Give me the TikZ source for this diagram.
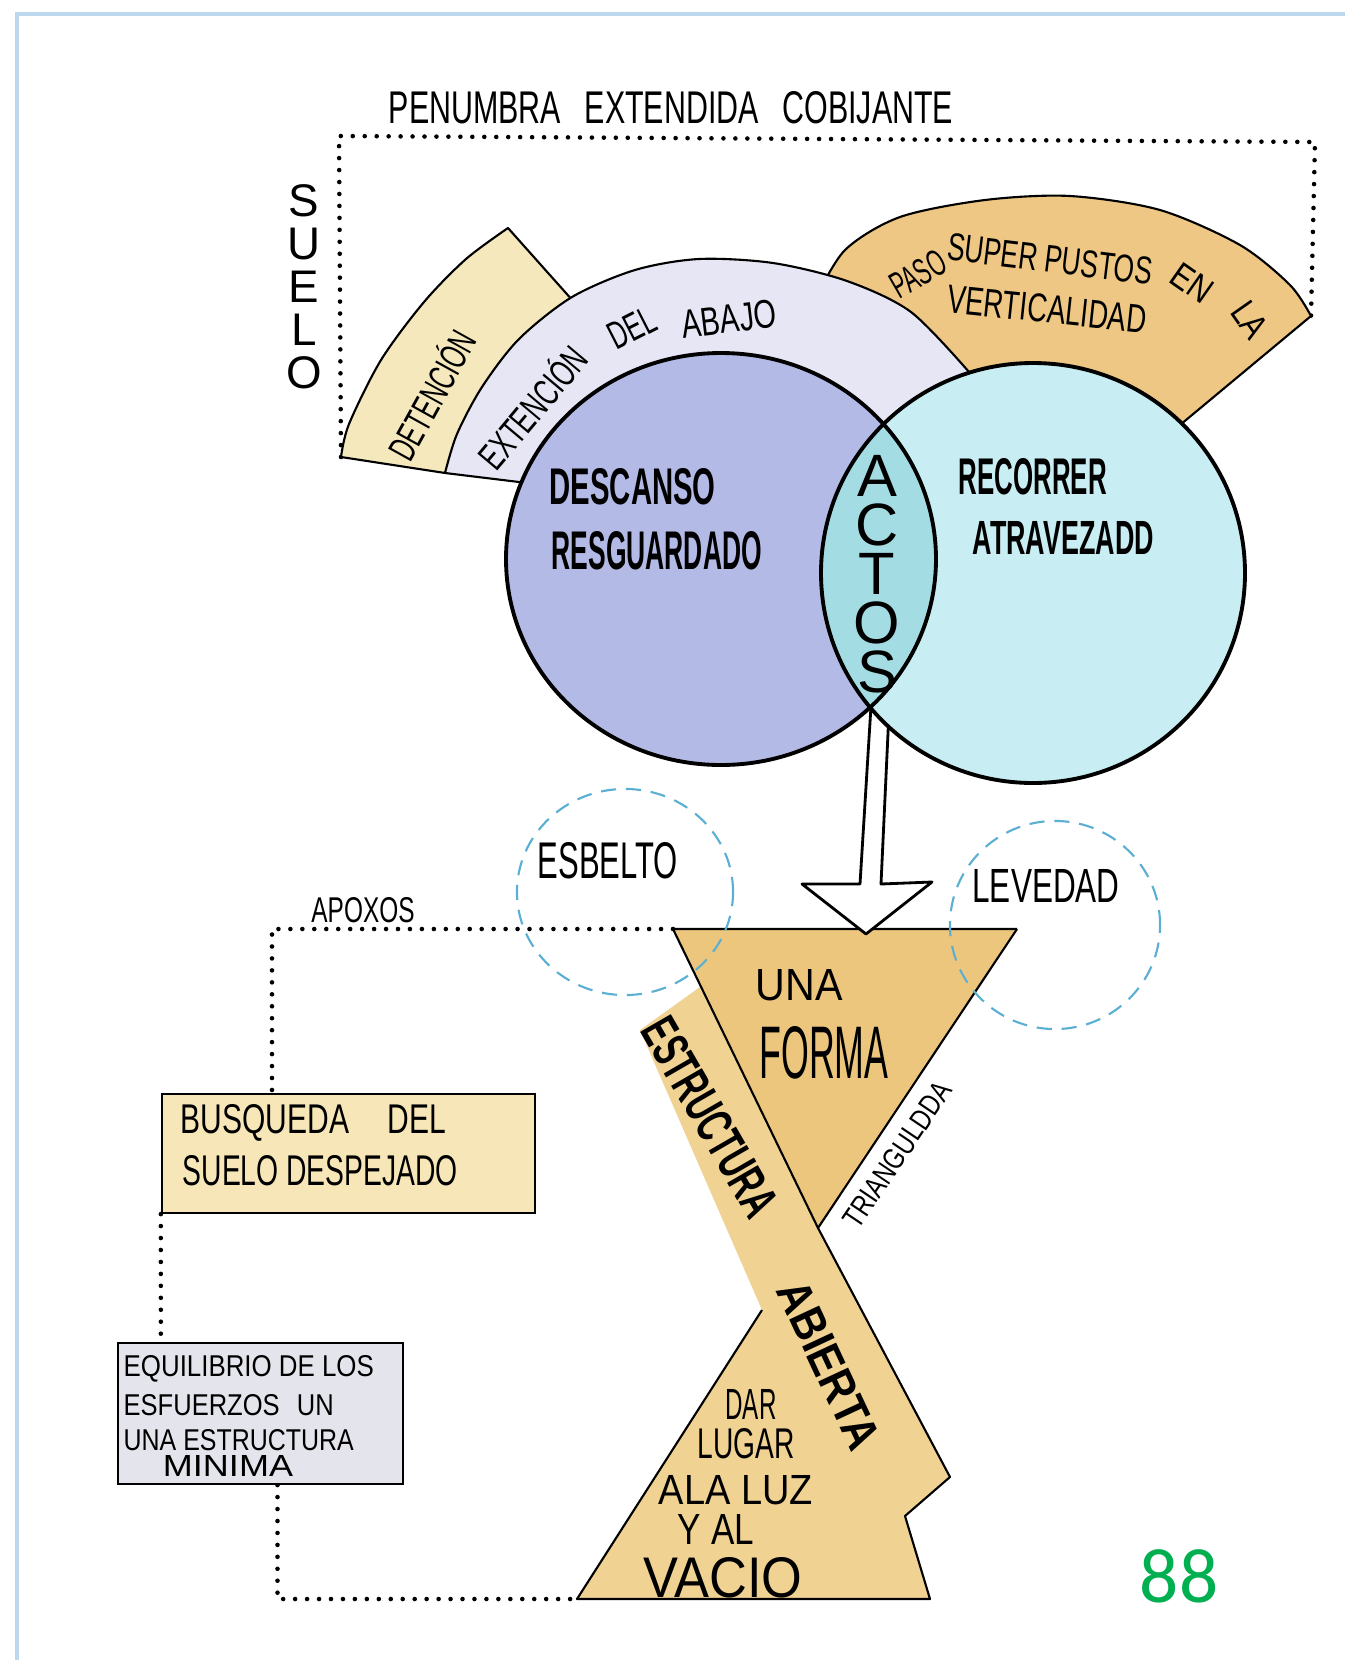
\documentclass[tikz,border=0pt]{standalone}
\usepackage{fontspec}
\usepackage{graphicx}
\usetikzlibrary{shapes.geometric,calc}
\setmainfont{Liberation Sans}
\newfontfamily\hand{Liberation Sans}
\newfontfamily\pgnum{Carlito}
\definecolor{frameblue}{HTML}{BDD7EE}
\definecolor{detc}{HTML}{F4E8BC}
\definecolor{extc}{HTML}{E6E6F4}
\definecolor{pasoc}{HTML}{EDC783}
\definecolor{descc}{HTML}{B4BAE6}
\definecolor{recoc}{HTML}{C8EDF2}
\definecolor{lensc}{HTML}{A4DCE4}
\definecolor{formac}{HTML}{EDC67E}
\definecolor{bandc}{HTML}{F0D393}
\definecolor{busqc}{HTML}{F7E7B8}
\definecolor{equic}{HTML}{E4E4EC}
\definecolor{dashblue}{HTML}{5BAFD2}
\definecolor{pggreen}{HTML}{00B050}
\newcommand{\hw}[3]{\resizebox{#1}{#2}{\hand #3}}
\tikzset{
  lbl/.style={inner sep=0pt,font=\hand},
  outl/.style={draw=black,line width=0.6pt,line join=round},
  ring/.style={draw=black,line width=1.1pt},
  dots/.style={line width=1.3pt,line cap=round,dash pattern=on 0pt off 3.4pt},
  bubble/.style={ellipse,draw=dashblue,line width=0.6pt,dash pattern=on 4.3pt off 2.8pt,inner sep=0pt},
  blob/.style={ellipse,inner sep=0pt},
  boxy/.style={draw=black,line width=0.6pt,inner sep=0pt},
}

\begin{document}
\begin{tikzpicture}[x=0.01cm,y=-0.01cm]
\useasboundingbox (0,0) rectangle (1345,1660);
\fill[white] (0,0) rectangle (1345,1660);
\draw[frameblue,line width=0.9pt] (17,1660) -- (17,14) -- (1345,14);

\coordinate (detbl) at (341,457);
\coordinate (pasotr) at (1311,316);
\draw[dots] (detbl) -- (339,136) -- (1315,142) -- (pasotr);

\filldraw[outl,fill=pasoc] plot[smooth] coordinates {(815,300) (845,250) (900,217) (985,200) (1070,196) (1160,210) (1240,245) (1290,285) (pasotr)}
  -- (1180,425) -- (1060,440) -- (880,440) -- cycle;
\filldraw[outl,fill=detc] plot[smooth] coordinates {(detbl) (349,424) (381,360) (424,302) (466,259) (508,228)}
  -- (590,320) -- (480,420) -- (445,473) -- cycle;
\filldraw[outl,fill=extc] plot[smooth] coordinates {(445,473) (457,434) (482,387) (519,339) (572,297) (635,270) (699,259) (773,263) (847,281) (911,312) (969,372)}
  -- (1000,430) -- (800,560) -- (519,482) -- cycle;

\coordinate (tl) at (673,929);
\coordinate (tr) at (1017,929);
\coordinate (tb) at (818,1228);
\coordinate (lowbl) at (577,1599);
\fill[bandc] (700,987) -- (640,1030) -- (762,1310) -- (lowbl) -- (930,1599) -- (905,1516) -- (950,1477) -- (tb) -- cycle;
\fill[formac] (tl) -- (tr) -- (tb) -- cycle;
\draw[outl] (tr) -- (tl) -- (tb) -- (950,1477) -- (905,1516) -- (930,1599) -- (lowbl) -- (762,1310);
\draw[outl] (tr) -- (tb);

\filldraw[outl,fill=white,line width=0.8pt] (872,690) -- (860,884) -- (802,884) -- (866,934) -- (932,882) -- (881,884) -- (890,690) -- cycle;

\node[blob,fill=descc,minimum width=4.30cm,minimum height=4.12cm] (desc) at (721,559) {};
\node[blob,fill=recoc,minimum width=4.24cm,minimum height=4.20cm] (reco) at (1033,573) {};
\begin{scope}
  \clip (desc.center) ellipse [x radius=215,y radius=206];
  \fill[lensc] (reco.center) ellipse [x radius=212,y radius=210];
\end{scope}
\draw[ring] (desc.center) ellipse [x radius=215,y radius=206];
\draw[ring] (reco.center) ellipse [x radius=212,y radius=210];

\node[boxy,fill=busqc,minimum width=3.73cm,minimum height=1.19cm] (busq) at (348.5,1153.5) {};
\node[boxy,fill=equic,minimum width=2.85cm,minimum height=1.41cm] (equi) at (260.5,1413.5) {};
\coordinate (apoyo) at (272,929);
\draw[dots] (tl) -- (apoyo) -- (apoyo |- busq.north);
\draw[dots] (busq.south west) -- (busq.south west |- equi.north);
\draw[dots] ($(equi.south)+(17,0)$) |- (lowbl);

\node[bubble,minimum width=2.16cm,minimum height=2.06cm] (esbelto) at (625,892) {};
\node[bubble,minimum width=2.10cm,minimum height=2.08cm] (levedad) at (1055,925) {};

\node[lbl] (pen) at (671,108) {\hw{5.64cm}{.32cm}{PENUMBRA\hspace{.5em} EXTENDIDA\hspace{.5em} COBIJANTE}};
\foreach \ch [count=\i from 0] in {S,U,E,L,O}
  \node[lbl,font=\hand\fontsize{13}{15}\selectfont] (suelo\i) at (304,{201+43*\i}) {\ch};
\node[lbl,rotate=61] (deten) at (430,394) {\hw{1.40cm}{.33cm}{DETENCIÓN}};
\node[lbl,rotate=50] (ext1) at (531,406) {\hw{1.46cm}{.33cm}{EXTENCIÓN}};
\node[lbl,rotate=27] (ext2) at (632,328) {\hw{.48cm}{.27cm}{DEL}};
\node[lbl,rotate=7] (ext3) at (729,319) {\hw{.95cm}{.28cm}{ABAJO}};
\node[lbl,rotate=30] (paso1) at (918,274) {\hw{.58cm}{.26cm}{PASO}};
\node[lbl,rotate=-7] (paso2) at (1050,259) {\hw{2.06cm}{.27cm}{SUPER PUSTOS}};
\node[lbl,rotate=-35] (paso3) at (1192,283) {\hw{.42cm}{.25cm}{EN}};
\node[lbl,rotate=-55] (paso4) at (1250,320) {\hw{.36cm}{.25cm}{LA}};
\node[lbl,rotate=-6] (paso5) at (1047,309) {\hw{2.00cm}{.28cm}{VERTICALIDAD}};
\node[lbl,anchor=west] (desc1) at (549,487) {\hw{1.66cm}{.36cm}{\bfseries DESCANSO}};
\node[lbl,anchor=west] (desc2) at (551,551) {\hw{2.10cm}{.38cm}{\bfseries RESGUARDADO}};
\node[lbl,anchor=west] (reco1) at (958,477) {\hw{1.48cm}{.36cm}{\bfseries RECORRER}};
\node[lbl,anchor=west] (reco2) at (972,538) {\hw{1.81cm}{.33cm}{\bfseries ATRAVEZADD}};
\foreach \ch [count=\i from 0] in {A,C,T,O,S}
  \node[lbl,font=\hand\fontsize{17}{19}\selectfont] (actos\i) at (877,{476+49*\i}) {\ch};
\node[lbl] (esb) at (608,861) {\hw{1.40cm}{.36cm}{ESBELTO}};
\node[lbl] (lev) at (1046,886) {\hw{1.47cm}{.33cm}{LEVEDAD}};
\node[lbl] (apo) at (363,910) {\hw{1.03cm}{.25cm}{APOXOS}};
\node[lbl] (una) at (799,985) {\hw{.87cm}{.31cm}{UNA}};
\node[lbl] (forma) at (824,1053) {\hw{1.29cm}{.52cm}{FORMA}};
\node[lbl,rotate=-60] (estr) at (710,1117) {\hw{2.20cm}{.36cm}{\bfseries ESTRUCTURA}};
\node[lbl,rotate=-65] (abi) at (829,1365) {\hw{1.80cm}{.33cm}{\bfseries ABIERTA}};
\node[lbl,rotate=56] (trian) at (897,1155) {\hw{1.69cm}{.21cm}{TRIANGULDDA}};
\node[lbl] (dar) at (751,1404) {\hw{.51cm}{.30cm}{DAR}};
\node[lbl] (lugar) at (746,1444) {\hw{.97cm}{.30cm}{LUGAR}};
\node[lbl] (luz) at (736,1490) {\hw{1.54cm}{.29cm}{ALA LUZ}};
\node[lbl] (yal) at (716,1529) {\hw{.76cm}{.30cm}{Y AL}};
\node[lbl] (vacio) at (723,1578) {\hw{1.59cm}{.40cm}{VACIO}};
\node[lbl,anchor=west] (busq1) at (180,1123) {\hw{2.65cm}{.29cm}{BUSQUEDA\hspace{1em} DEL}};
\node[lbl,anchor=west] (busq2) at (182,1171) {\hw{2.75cm}{.30cm}{SUELO DESPEJADO}};
\node[lbl,anchor=west] (equi1) at (123,1369) {\hw{2.50cm}{.21cm}{EQUILIBRIO DE LOS}};
\node[lbl,anchor=west] (equi2) at (123,1405) {\hw{2.10cm}{.21cm}{ESFUERZOS\hspace{.4em} UN}};
\node[lbl,anchor=west] (equi3) at (123,1440) {\hw{2.30cm}{.21cm}{UNA ESTRUCTURA}};
\node[lbl] (equi4) at (228,1466) {\hw{1.30cm}{.21cm}{MINIMA}};
\node[lbl,text=pggreen,font=\pgnum\fontsize{22}{26}\selectfont] (num) at (1179,1576) {88};
\end{tikzpicture}
\end{document}
